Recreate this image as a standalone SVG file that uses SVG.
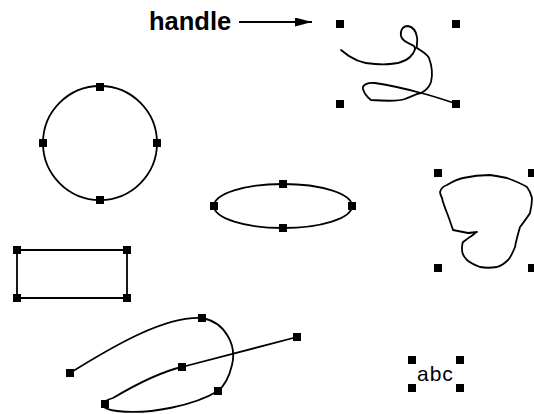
<svg xmlns="http://www.w3.org/2000/svg" width="534" height="414" viewBox="0 0 534 414">
<style>
.s{fill:none;stroke:#000;stroke-width:1.8;stroke-linejoin:round;stroke-linecap:round}
.h{fill:#000}
.t{font-family:"Liberation Sans",Arial,sans-serif;fill:#000}
</style>
<defs>
<rect id="hd" x="-4" y="-4" width="8" height="8" class="h"/>
<marker id="ah" viewBox="0 0 17 9" refX="17" refY="4.5" markerWidth="17" markerHeight="9" markerUnits="userSpaceOnUse" orient="auto">
<path d="M0,0 L17,4.5 L0,9 Z" fill="#000"/>
</marker>
</defs>
<rect width="534" height="414" fill="#fff"/>
<g id="label-handle">
<text class="t" x="149" y="30" font-size="25.5" font-weight="bold">handle</text>
</g>
<g id="connectors">
<line x1="239" y1="22" x2="312" y2="22" stroke="#000" stroke-width="2" marker-end="url(#ah)"/>
</g>
<g id="freehand-top">
<path class="s" d="M341,50 C350,58 362,64 375,64 C390,65 404,63 410,57 C415,52 416,48 414,46 C408,43 402,41 401,36 C400,30 403,26 408,26 C413,27 416,31 417,37 C418,42 416,46 417,48 C421,51 426,53 429,58 C432,66 433,74 431,82 C429,88 425,91 421,93 C410,90 395,86 375,83 C368,82 362,85 363,89 C364,93 367,97 371,100 C385,101 400,101 405,99 C411,97 415,94 421,93 C433,96 445,100 457,104"/>
<use href="#hd" x="340" y="24"/>
<use href="#hd" x="456" y="24"/>
<use href="#hd" x="340" y="104"/>
<use href="#hd" x="456" y="104"/>
</g>
<g id="circle">
<circle class="s" cx="100" cy="143" r="57"/>
<use href="#hd" x="100" y="87"/>
<use href="#hd" x="43" y="143"/>
<use href="#hd" x="157" y="143"/>
<use href="#hd" x="100" y="200"/>
</g>
<g id="ellipse">
<ellipse class="s" cx="283" cy="206" rx="69" ry="22"/>
<use href="#hd" x="283" y="184"/>
<use href="#hd" x="214" y="206"/>
<use href="#hd" x="352" y="206"/>
<use href="#hd" x="283" y="228"/>
</g>
<g id="polygon-right">
<path class="s" d="M440,192 C441,188 444,186 447,185 C452,182 458,179 463,178 C472,176 482,175 490,175 C497,176 502,177 507,178 C515,181 522,184 527,187 C530,191 531,194 532,198 C532,204 531,209 530,213 C527,218 523,223 520,227 C518,234 516,241 515,247 C513,252 511,257 508,260 C505,263 501,266 497,267 C491,268 485,268 480,267 C475,265 470,263 467,260 C464,257 462,254 462,250 C462,246 462,244 463,242 C466,240 468,238 470,237 C473,235 475,233 477,232 C474,232 471,233 468,233 C463,232 458,231 453,230 C451,224 449,218 447,213 C445,208 443,203 442,198 C441,196 440,194 440,192 Z"/>
<use href="#hd" x="438" y="173"/>
<use href="#hd" x="532" y="173"/>
<use href="#hd" x="438" y="268"/>
<use href="#hd" x="532" y="268"/>
</g>
<g id="rectangle">
<rect class="s" x="17" y="250" width="110" height="48"/>
<use href="#hd" x="17" y="250"/>
<use href="#hd" x="127" y="250"/>
<use href="#hd" x="17" y="298"/>
<use href="#hd" x="127" y="298"/>
</g>
<g id="curve-bottom">
<path class="s" d="M70,373 C115,345 165,316 202,318 C225,322 237,345 232,365 C229,378 224,386 218,391 C195,405 150,415 117,411 C100,409 98,402 113,398 C135,385 160,372 182,367 L297,337"/>
<use href="#hd" x="70" y="373"/>
<use href="#hd" x="202" y="318"/>
<use href="#hd" x="297" y="337"/>
<use href="#hd" x="182" y="367"/>
<use href="#hd" x="218" y="391"/>
<use href="#hd" x="105" y="404"/>
</g>
<g id="text-abc">
<text class="t" x="417" y="381" font-size="21" letter-spacing="1">abc</text>
<use href="#hd" x="412" y="360"/>
<use href="#hd" x="460" y="360"/>
<use href="#hd" x="412" y="388"/>
<use href="#hd" x="460" y="388"/>
</g>
</svg>
